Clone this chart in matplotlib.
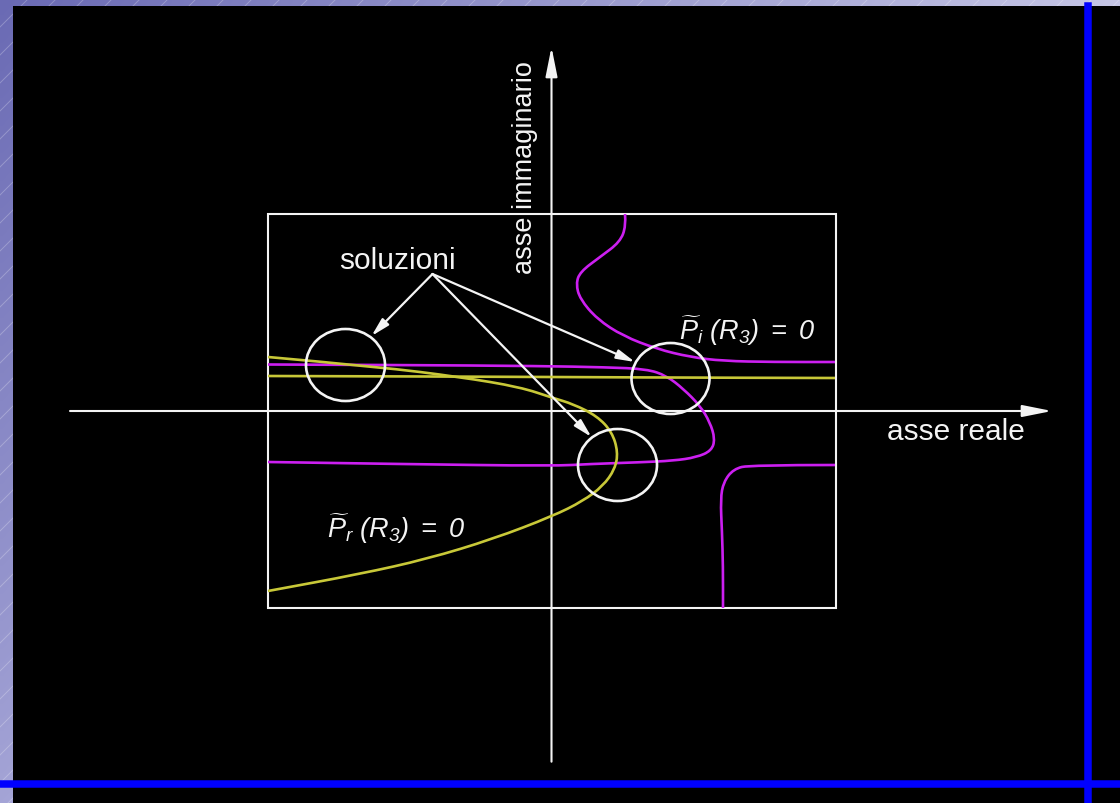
import numpy as np
import matplotlib
matplotlib.use('Agg')
import matplotlib.pyplot as plt
from matplotlib.path import Path
from matplotlib.patches import PathPatch, Ellipse, Rectangle, FancyArrowPatch
from matplotlib.lines import Line2D

plt.rcParams['font.family'] = ['Liberation Sans', 'DejaVu Sans']
plt.rcParams['mathtext.fontset'] = 'custom'
plt.rcParams['mathtext.rm'] = 'Liberation Sans:italic'
plt.rcParams['mathtext.it'] = 'Liberation Sans:italic'

# finestra di ricerca nel piano complesso
box_re = (-2.84, 2.84)
box_im = (-1.97, 1.97)

# curva P_i(R3) = 0 (tre rami, magenta)
pi1_re = [0.735, 0.745, 0.685, 0.485, 0.285, 0.245, 0.285, 0.455, 0.715, 1.055, 1.385, 1.715, 2.215, 2.835]
pi1_im = [1.97, 1.85, 1.69, 1.54, 1.39, 1.27, 1.12, 0.92, 0.75, 0.62, 0.54, 0.50, 0.49, 0.49]
pi2_re = [-2.835, -1.515, -0.115, 0.55, 0.95, 1.15, 1.32, 1.485, 1.585, 1.635, 1.60, 1.45, 1.22, 0.885, 0.385, 0.015, -1.515, -2.835]
pi2_im = [0.465, 0.46, 0.45, 0.437, 0.42, 0.353, 0.22, 0.053, -0.113, -0.28, -0.397, -0.463, -0.497, -0.513, -0.53, -0.55, -0.53, -0.51]
pi3_re = [2.835, 1.985, 1.82, 1.72, 1.69, 1.705, 1.715, 1.715]
pi3_im = [-0.54, -0.54, -0.58, -0.71, -0.88, -1.21, -1.55, -1.97]

# curva P_r(R3) = 0 (due rami, giallo)
pr1_re = [-2.835, -1.015, 0.985, 2.835]
pr1_im = [0.35, 0.345, 0.335, 0.33]
pr2_re = [-2.835, -1.715, -0.915, -0.315, 0.015, 0.215, 0.455, 0.605, 0.665, 0.635, 0.515, 0.315, 0.015, -0.585, -1.245, -1.915, -2.835]
pr2_im = [0.54, 0.44, 0.34, 0.24, 0.13, 0.07, -0.05, -0.21, -0.41, -0.58, -0.75, -0.90, -1.05, -1.28, -1.48, -1.63, -1.80]

# soluzioni (intersezioni) cerchiate
sol_re = [-2.06, 1.19, 0.66]
sol_im = [0.46, 0.325, -0.54]
sol_w = [0.79, 0.78, 0.79]
sol_h = [0.72, 0.71, 0.72]

# punto di partenza delle frecce e punte
apex = (-1.19, 1.37)
tips_re = [-1.80, 0.835, 0.40]
tips_im = [0.75, 0.49, -0.26]

MAGENTA = '#cc1ff0'
YELLOW = '#c8c838'
WHITE = '#f4f4f4'


def smooth_path(xs, ys):
    # spezzata resa morbida con bezier quadratiche sui punti medi
    pts = np.column_stack([xs, ys])
    verts = [pts[0]]
    codes = [Path.MOVETO]
    for i in range(1, len(pts) - 1):
        verts += [pts[i], (pts[i] + pts[i + 1]) / 2]
        codes += [Path.CURVE3, Path.CURVE3]
    verts.append(pts[-1])
    codes.append(Path.LINETO)
    return Path(verts, codes)


W, H = 1120, 804
fig = plt.figure(figsize=(W / 100, H / 100), dpi=100)

# sfondo della diapositiva: sfumatura lilla con righe diagonali
bg = fig.add_axes([0, 0, 1, 1])
gx, gy = np.meshgrid(np.linspace(0, 1, 200), np.linspace(0, 1, 150))
c0 = np.array([106, 106, 180]) / 255
dx = np.array([92, 92, 50]) / 255
dy = np.array([58, 58, 34]) / 255
img = np.clip(c0 + gx[..., None] * dx + gy[..., None] * dy, 0, 1)
bg.imshow(img, extent=(0, W, H, 0), aspect='auto', interpolation='bilinear')
for c in np.arange(0, W + H, 28):
    bg.plot([c, c - H], [0, H], color='white', lw=0.7, alpha=0.25)
bg.set_xlim(0, W)
bg.set_ylim(H, 0)
bg.axis('off')

# area nera
ox, oy = 551.5, 412
ax = fig.add_axes([13 / W, 0, (W - 13) / W, (H - 7) / H])
ax.set_facecolor('black')
ax.set_xlim((13 - ox) / 100, (W - ox) / 100)
ax.set_ylim((oy - H) / 100, (oy - 7) / 100)
ax.set_xticks([])
ax.set_yticks([])
for s in ax.spines.values():
    s.set_visible(False)

# assi reale e immaginario
axis_style = '-|>,head_length=0.9,head_width=0.18'
ax.add_patch(FancyArrowPatch((-4.815, 0), (5.005, 0), arrowstyle=axis_style,
                             mutation_scale=20, color=WHITE, lw=1.5,
                             shrinkA=0, shrinkB=0))
ax.add_patch(FancyArrowPatch((0, -3.507), (0, 3.64), arrowstyle=axis_style,
                             mutation_scale=20, color=WHITE, lw=1.5,
                             shrinkA=0, shrinkB=0))

# finestra
ax.add_patch(Rectangle((box_re[0], box_im[0]), box_re[1] - box_re[0],
                       box_im[1] - box_im[0], fill=False, ec=WHITE, lw=1.5))

# curve
for xs, ys in [(pi1_re, pi1_im), (pi2_re, pi2_im), (pi3_re, pi3_im)]:
    ax.add_patch(PathPatch(smooth_path(xs, ys), fill=False, ec=MAGENTA, lw=1.9))
for xs, ys in [(pr1_re, pr1_im), (pr2_re, pr2_im)]:
    ax.add_patch(PathPatch(smooth_path(xs, ys), fill=False, ec=YELLOW, lw=1.9))

# cerchi sulle soluzioni
for x, y, w, h in zip(sol_re, sol_im, sol_w, sol_h):
    ax.add_patch(Ellipse((x, y), w, h, fill=False, ec=WHITE, lw=1.9))

# frecce da "soluzioni"
for x, y in zip(tips_re, tips_im):
    ax.add_patch(FancyArrowPatch(apex, (x, y),
                                 arrowstyle='-|>,head_length=0.55,head_width=0.14',
                                 mutation_scale=20, color=WHITE, lw=1.6,
                                 shrinkA=0, shrinkB=0))

# testi
ax.text(-1.545, 1.43, 'soluzioni', color=WHITE, fontsize=21.5,
        ha='center', va='baseline')
ax.text(3.355, -0.28, 'asse reale', color=WHITE, fontsize=21.5,
        ha='left', va='baseline')
ax.text(-0.265, 2.445, 'asse immaginario', color=WHITE, fontsize=19.5,
        rotation=90, ha='center', va='center')
ax.text(1.275, 0.72, r'$\widetilde{P}_{i}\ (R_{3})\ =\ 0$',
        color=WHITE, fontsize=19.5, ha='left', va='baseline')
ax.text(-2.245, -1.26, r'$\widetilde{P}_{r}\ (R_{3})\ =\ 0$',
        color=WHITE, fontsize=19.5, ha='left', va='baseline')

# linee blu del modello
fig.add_artist(Line2D([1087.8 / W, 1087.8 / W], [0, 1 - 7 / H],
                      transform=fig.transFigure, color='#0000ff', lw=5.4))
fig.add_artist(Line2D([0, 1], [1 - 784.6 / H, 1 - 784.6 / H],
                      transform=fig.transFigure, color='#0000ff', lw=5.4))

fig.savefig('out.png', dpi=100, facecolor='black')
